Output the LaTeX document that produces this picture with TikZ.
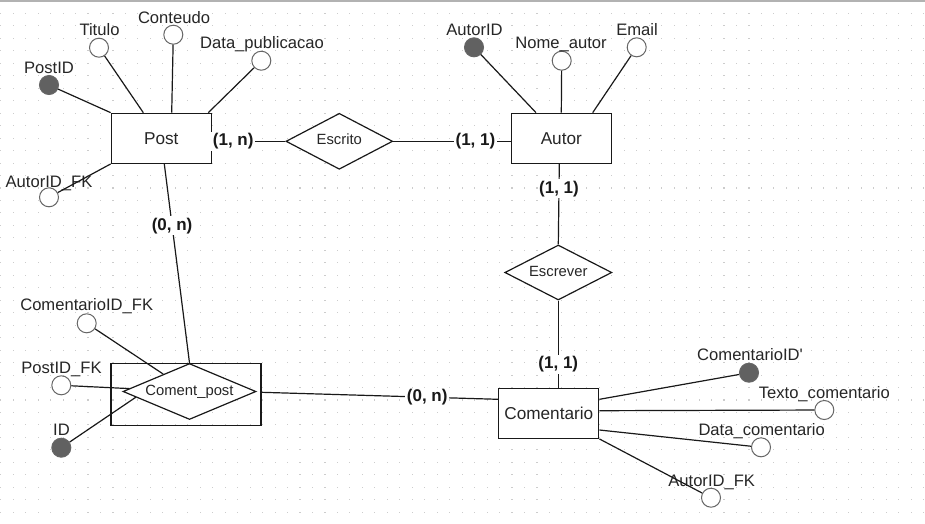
\documentclass[tikz,border=0pt]{standalone}
\usepackage{fontspec}
\setmainfont{Liberation Sans}
\usetikzlibrary{shapes.geometric,calc}
\begin{document}
\begin{tikzpicture}[x=1pt,y=-1pt,
  conn/.style={line width=1.2pt, draw=black!90},
  entity/.style={draw=black!90, fill=white, line width=1.3pt, rectangle, minimum width=100pt, minimum height=50pt, inner sep=0pt, font=\fontsize{17.2}{20}\selectfont, text=black!85},
  rel/.style={draw=black!90, fill=white, line width=1.2pt, diamond, inner sep=0pt, font=\fontsize{14.8}{18}\selectfont, text height=0.72em, text depth=0pt, text=black!85},
  attr/.style={circle, draw=black!60, line width=1pt, fill=white, minimum size=19pt, inner sep=0pt},
  keyattr/.style={attr, fill=black!62},
  atxt/.style={font=\fontsize{16.6}{20}\selectfont, text=black!85, inner sep=0pt, text height=0.72em, text depth=0pt, yshift=-1.5pt},
  card/.style={font=\bfseries\fontsize{17}{20}\selectfont, fill=white, inner sep=1.5pt, text=black!90},
]
\fill[white] (0,0) rectangle (925,523);
\useasboundingbox (0,0) rectangle (925,523);
\foreach \i in {0,...,74} {\foreach \j in {0,...,41} {\fill[black!20] ({0.2+12.47*\i},{0.4+12.47*\j}) rectangle ++(1.1,1.1);}}
\draw[black!30, line width=1.5pt] (0,0.75) -- (925,0.75);

% entities and relationships
\node[entity] (post) at (161.3,138.3) {Post};
\node[entity] (autor) at (561.3,138.3) {Autor};
\node[entity] (com) at (548.8,413.3) {Comentario};
\node[rel, aspect=1.9, minimum width=106.7pt, minimum height=56pt] (escrito) at (339.3,141.3) {Escrito};
\node[rel, aspect=1.95, minimum width=107pt, minimum height=55pt] (escrever) at (558.3,272.5) {Escrever};
\node[draw=black!90, line width=1.3pt, rectangle, minimum width=150pt, minimum height=62.4pt, inner sep=0pt] (cprect) at (186,394.5) {};
\node[rel, aspect=2.4, minimum width=133pt, minimum height=56pt] (cpd) at (189.5,391.5) {Coment\_post};

% attributes
\node[keyattr] (a-postid) at (49,85) {};
\node[atxt] (t-postid) at (49,68) {PostID};
\node[attr] (a-titulo) at (99,47.7) {};
\node[atxt] (t-titulo) at (99.5,30) {Titulo};
\node[attr] (a-conteudo) at (173.3,34.7) {};
\node[atxt] (t-conteudo) at (174,18) {Conteudo};
\node[attr] (a-datapub) at (261.3,60.7) {};
\node[atxt] (t-datapub) at (262,43) {Data\_publicacao};
\node[attr] (a-autorfk) at (49,197.3) {};
\node[atxt] (t-autorfk) at (49,182) {AutorID\_FK};
\node[keyattr] (a-autorid) at (474,47.3) {};
\node[atxt] (t-autorid) at (474.5,30) {AutorID};
\node[attr] (a-nome) at (561.7,60.7) {};
\node[atxt] (t-nome) at (561,43) {Nome\_autor};
\node[attr] (a-email) at (636.7,47.3) {};
\node[atxt] (t-email) at (637,30) {Email};
\node[attr] (a-comfk) at (86.7,323.3) {};
\node[atxt] (t-comfk) at (86.7,305) {ComentarioID\_FK};
\node[attr] (a-postfk) at (61.3,385.3) {};
\node[atxt] (t-postfk) at (61.5,368) {PostID\_FK};
\node[keyattr] (a-id) at (61.3,447.7) {};
\node[atxt] (t-id) at (61.5,430) {ID};
\node[keyattr] (a-comid) at (749,372.7) {};
\node[atxt] (t-comid) at (750,355) {ComentarioID\textquotesingle};
\node[attr] (a-texto) at (824.3,410) {};
\node[atxt] (t-texto) at (824.3,393.3) {Texto\_comentario};
\node[attr] (a-datacom) at (761,447.3) {};
\node[atxt] (t-datacom) at (761.7,430) {Data\_comentario};
\node[attr] (a-autorfk2) at (711,497.7) {};
\node[atxt] (t-autorfk2) at (711.7,481) {AutorID\_FK};

% attribute connectors
\draw[conn] (post.north west) -- (a-postid);
\draw[conn] ([xshift=-18pt]post.north) -- (a-titulo);
\draw[conn] ([xshift=10.4pt]post.north) -- (a-conteudo);
\draw[conn] ([xshift=47pt]post.north) -- (a-datapub);
\draw[conn] (post.south west) -- (a-autorfk);
\draw[conn] ([xshift=-25.3pt]autor.north) -- (a-autorid);
\draw[conn] (autor.north) -- (a-nome);
\draw[conn] ([xshift=31.4pt]autor.north) -- (a-email);
\draw[conn] ([yshift=14pt]com.east) -- (a-comid);
\draw[conn] ([yshift=2.6pt]com.east) -- (a-texto);
\draw[conn] ([yshift=-16.7pt]com.east) -- (a-datacom);
\draw[conn] (com.south east) -- (a-autorfk2);
\draw[conn] (a-comfk) -- (cpd);
\draw[conn] (a-postfk) -- (cpd);
\draw[conn] (a-id) -- ($(cpd.west)!0.2!(cpd.south)$);

% relationship connectors
\draw[conn] ([yshift=-3pt]post.east) -- node[card, pos=0.29] (c1) {(1, n)} (escrito.west);
\draw[conn] (escrito.east) -- node[card, pos=0.7] (c2) {(1, 1)} ([yshift=-3pt]autor.west);
\draw[conn] ([xshift=-2pt]autor.south) -- node[card, pos=0.31] (c3) {(1, 1)} (escrever.north);
\draw[conn] (escrever.south) -- node[card, pos=0.73] (c4) {(1, 1)} ([xshift=9.5pt]com.north);
\draw[conn] ([xshift=3pt]post.south) -- node[card, pos=0.31] (c5) {(0, n)} (cpd.north);
\draw[conn] ([yshift=2.2pt]cprect.east) -- node[card, pos=0.7] (c6) {(0, n)} ([yshift=14pt]com.west);
\end{tikzpicture}
\end{document}
